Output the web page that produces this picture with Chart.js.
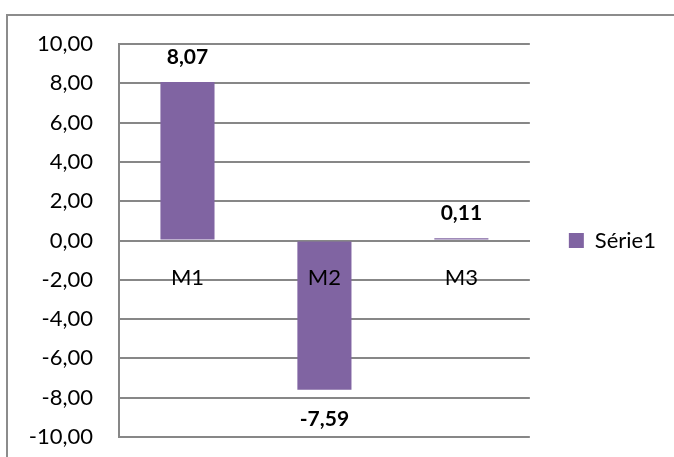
<!DOCTYPE html>
<html>
<head>
<meta charset="utf-8">
<script src="https://cdn.jsdelivr.net/npm/chart.js@4/dist/chart.umd.min.js"></script>
<style>
  html, body { margin: 0; padding: 0; background: #fff; overflow: hidden; }
  #frame {
    position: absolute; left: 6px; top: 14px; width: 720px; height: 500px;
    border: 2px solid #8c8c8c;
  }
  #wrap { position: absolute; left: 0; top: 0; width: 674px; height: 457px; }
</style>
</head>
<body>
<div id="frame"></div>
<div id="wrap"><canvas id="serieChart" width="674" height="457"></canvas></div>
<script>
const labels = ['M1', 'M2', 'M3'];
const serie1 = [8.07, -7.59, 0.11];
const yMin = -10;
const yMax = 10;
const yStep = 2;

const gridColor = '#878787';
const barColor = '#8064a2';
const fontFamily = 'Lato, "Liberation Sans", sans-serif';

// French style decimals: 8,07
const fmt = (v, d) => v.toFixed(d).replace('.', ',');

// value labels above positive bars, below negative ones
const valueLabels = {
  id: 'valueLabels',
  afterDatasetsDraw(chart) {
    const ctx = chart.ctx;
    const ds = chart.data.datasets[0];
    const meta = chart.getDatasetMeta(0);
    ctx.save();
    ctx.font = 'bold 21px ' + fontFamily;
    ctx.fillStyle = '#000';
    ctx.textAlign = 'center';
    ctx.textBaseline = 'middle';
    meta.data.forEach((bar, i) => {
      const v = ds.data[i];
      const y = v >= 0 ? bar.y - 25 : bar.y + 30;
      ctx.fillText(fmt(v, 2), bar.x, y);
    });
    ctx.restore();
  }
};

const config = {
  type: 'bar',
  data: {
    labels: labels,
    datasets: [{
      label: 'Série1',
      data: serie1,
      backgroundColor: barColor,
      categoryPercentage: 1,
      barPercentage: 0.395
    }]
  },
  options: {
    responsive: false,
    animation: false,
    layout: { padding: { top: 44, bottom: 20, left: 0, right: 8 } },
    scales: {
      x: {
        // category axis sits on the zero line, labels drawn over the bars
        position: { y: 0 },
        afterFit(scale) { scale.height = 0; },
        grid: { display: false },
        border: { display: true, color: gridColor, width: 2 },
        ticks: {
          z: 1,
          color: '#000',
          font: { family: fontFamily, size: 22 },
          padding: 16,
          autoSkip: false,
          maxRotation: 0
        }
      },
      y: {
        min: yMin,
        max: yMax,
        afterFit(scale) { scale.width = 119; },
        // invisible tick marks keep the labels away from the axis
        grid: { color: gridColor, lineWidth: 2, drawTicks: true, tickLength: 26, tickColor: 'rgba(0,0,0,0)' },
        border: { display: true, color: gridColor, width: 2 },
        ticks: {
          stepSize: yStep,
          color: '#000',
          padding: 0,
          font: { family: fontFamily, size: 22 },
          callback: (v) => fmt(v, 2)
        }
      }
    },
    plugins: {
      legend: {
        position: 'right',
        maxWidth: 145,
        labels: {
          boxWidth: 15,
          boxHeight: 15,
          padding: 39,
          color: '#000',
          font: { family: fontFamily, size: 22 }
        }
      },
      tooltip: { enabled: false }
    }
  },
  plugins: [valueLabels]
};

const ctx = document.getElementById('serieChart').getContext('2d');
const serieChart = new Chart(ctx, config);
</script>
</body>
</html>
